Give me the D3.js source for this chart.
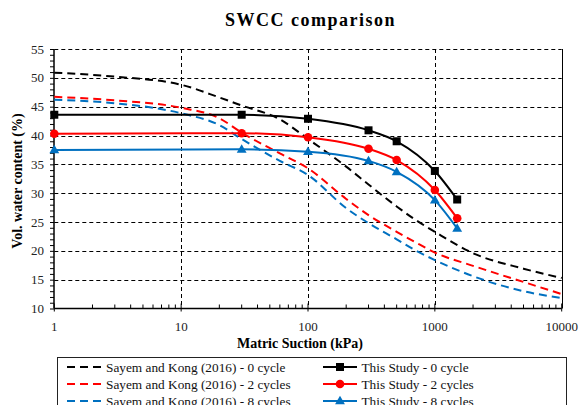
<!DOCTYPE html>
<html>
<head>
<meta charset="utf-8">
<script src="https://cdn.jsdelivr.net/npm/d3@7/dist/d3.min.js"></script>
<style>
  html, body { margin: 0; padding: 0; background: #fff; }
</style>
</head>
<body>
<svg id="chart" width="585" height="405"></svg>
<script>
// Suction values (kPa) shared by the published fitted curves
const refSuction = [1, 3, 10, 20, 30, 60, 100, 200, 300, 500, 700, 1000, 2000, 5000, 10000];
const sayem0 = [50.9, 50.2, 48.8, 46.6, 45.2, 42.8, 39.4, 34.6, 31.5, 27.7, 25.4, 23.3, 19.6, 16.9, 15.3];
const sayem2 = [46.7, 46.1, 44.8, 43.0, 40.5, 36.9, 34.3, 29.0, 26.2, 23.3, 21.5, 19.7, 17.4, 14.6, 12.5];
const sayem8 = [46.2, 45.6, 43.85, 41.8, 39.4, 35.6, 33.15, 27.4, 24.8, 22.0, 20.1, 18.4, 15.6, 13.0, 11.8];

// Measured points of this study
const studySuction = [1, 30, 100, 300, 500, 1000, 1500];
const study0 = [43.6, 43.6, 42.9, 40.9, 39.0, 33.85, 28.9];
const study2 = [40.3, 40.4, 39.7, 37.7, 35.75, 30.55, 25.65];
const study8 = [37.5, 37.6, 37.2, 35.6, 33.7, 28.8, 23.9];

const xTicks = [1, 10, 100, 1000, 10000];
const yTicks = [10, 15, 20, 25, 30, 35, 40, 45, 50, 55];

const seriesNames = [
  "Sayem and Kong (2016) - 0 cycle",
  "Sayem and Kong (2016) - 2 cycles",
  "Sayem and Kong (2016) - 8 cycles",
  "This Study - 0 cycle",
  "This Study - 2 cycles",
  "This Study - 8 cycles"
];
const colors = ["#000000", "#ff0000", "#0070c0"];
const FONT = "'Liberation Serif', 'Times New Roman', Times, serif";

const svg = d3.select("#chart");
const x = d3.scaleLog().domain([1, 10000]).range([54.3, 561.7]);
const y = d3.scaleLinear().domain([10, 55]).range([308.5, 49]);

function txt(g) {
  return g.append("text").attr("font-family", FONT).style("font-family", FONT);
}

// Title
txt(svg)
  .attr("x", 310.5).attr("y", 26)
  .attr("text-anchor", "middle")
  .attr("font-size", 18).attr("font-weight", "bold")
  .attr("letter-spacing", 1.5)
  .text("SWCC comparison");

// Grid
const grid = svg.append("g");
grid.selectAll("line.h").data(yTicks.filter(d => d > 10)).join("line")
  .attr("x1", x(1)).attr("x2", x(10000))
  .attr("y1", d => Math.round(y(d)) + 0.5).attr("y2", d => Math.round(y(d)) + 0.5)
  .attr("stroke", "#000").attr("stroke-width", 1).attr("stroke-dasharray", "4,3");
grid.selectAll("line.v").data([10, 100, 1000]).join("line")
  .attr("y1", y(55)).attr("y2", y(10))
  .attr("x1", d => Math.round(x(d)) + 0.5).attr("x2", d => Math.round(x(d)) + 0.5)
  .attr("stroke", "#000").attr("stroke-width", 1).attr("stroke-dasharray", "4,3");
// right border
grid.append("line")
  .attr("x1", Math.round(x(10000)) + 0.5).attr("x2", Math.round(x(10000)) + 0.5)
  .attr("y1", y(55)).attr("y2", y(10))
  .attr("stroke", "#000").attr("stroke-width", 1);

// Y axis: minor ticks every unit, outward
const minorY = d3.range(10, 56, 1);
const yAxis = svg.append("g").attr("transform", `translate(${Math.round(x(1))},0)`);
yAxis.call(d3.axisLeft(y).tickValues(minorY).tickSize(4).tickFormat(""));
yAxis.call(g => g.select(".domain").remove());
yAxis.append("line").attr("x1", 0).attr("x2", 0).attr("y1", y(55)).attr("y2", y(10))
  .attr("stroke", "#000").attr("stroke-width", 1.5);
const yLab = svg.append("g");
yTicks.forEach(d => {
  txt(yLab).attr("x", 44).attr("y", y(d) + 4.5)
    .attr("text-anchor", "end").attr("font-size", 13).attr("fill", "#222")
    .text(d);
});

// X axis: log decades with inward minor ticks
const minorX = [];
for (let e = 0; e < 4; e++) for (let m = 2; m <= 9; m++) minorX.push(m * Math.pow(10, e));
const xAxisG = svg.append("g").attr("transform", `translate(0,${y(10)})`);
xAxisG.append("line").attr("x1", x(1)).attr("x2", x(10000)).attr("y1", 0).attr("y2", 0)
  .attr("stroke", "#000").attr("stroke-width", 1.5);
xAxisG.selectAll("line.minor").data(minorX).join("line")
  .attr("x1", d => x(d)).attr("x2", d => x(d)).attr("y1", 0).attr("y2", -4)
  .attr("stroke", "#000").attr("stroke-width", 1);
xAxisG.selectAll("line.major").data(xTicks).join("line")
  .attr("x1", d => x(d)).attr("x2", d => x(d)).attr("y1", -5).attr("y2", 3)
  .attr("stroke", "#000").attr("stroke-width", 1);
xTicks.forEach(d => {
  txt(xAxisG).attr("x", x(d)).attr("y", 22)
    .attr("text-anchor", "middle").attr("font-size", 13).attr("fill", "#222")
    .text(d);
});

// Axis titles
txt(svg)
  .attr("x", 300).attr("y", 348)
  .attr("text-anchor", "middle").attr("font-size", 14).attr("font-weight", "bold")
  .text("Matric Suction (kPa)");
txt(svg)
  .attr("transform", "translate(22,181) rotate(-90)")
  .attr("text-anchor", "middle").attr("font-size", 14).attr("font-weight", "bold")
  .text("Vol. water content (%)");

// Curves
const line = d3.line()
  .x(d => x(d[0])).y(d => y(d[1]))
  .curve(d3.curveMonotoneX);

const refSeries = [sayem0, sayem2, sayem8];
refSeries.forEach((vals, i) => {
  svg.append("path")
    .datum(refSuction.map((s, k) => [s, vals[k]]))
    .attr("d", line)
    .attr("fill", "none").attr("stroke", colors[i])
    .attr("stroke-width", 2).attr("stroke-dasharray", "8,5");
});

const studySeries = [study0, study2, study8];
const markerKind = ["square", "circle", "triangle"];
function drawMarker(g, kind, cx, cy, color) {
  if (kind === "square") {
    g.append("rect").attr("x", cx - 4).attr("y", cy - 4).attr("width", 8).attr("height", 8)
      .attr("fill", color);
  } else if (kind === "circle") {
    g.append("circle").attr("cx", cx).attr("cy", cy).attr("r", 4.3).attr("fill", color);
  } else {
    g.append("path")
      .attr("d", d3.symbol(d3.symbolTriangle, 42)())
      .attr("transform", `translate(${cx},${cy + 0.5})`)
      .attr("fill", color);
  }
}
studySeries.forEach((vals, i) => {
  const pts = studySuction.map((s, k) => [s, vals[k]]);
  svg.append("path").datum(pts).attr("d", line)
    .attr("fill", "none").attr("stroke", colors[i]).attr("stroke-width", 2);
  const mg = svg.append("g");
  pts.forEach(p => drawMarker(mg, markerKind[i], x(p[0]), y(p[1]), colors[i]));
});

// Legend
const legend = svg.append("g");
legend.append("rect")
  .attr("x", 57.5).attr("y", 357.5).attr("width", 509).attr("height", 60)
  .attr("fill", "#fff").attr("stroke", "#222").attr("stroke-width", 1);
const rowY = [367, 384, 401];
seriesNames.forEach((name, i) => {
  const col = i < 3 ? 0 : 1;
  const row = i % 3;
  const lx0 = col === 0 ? 67 : 323;
  const lx1 = col === 0 ? 102 : 357;
  const tx = col === 0 ? 106 : 361.5;
  const cy = rowY[row];
  const l = legend.append("line")
    .attr("x1", lx0).attr("x2", lx1).attr("y1", cy).attr("y2", cy)
    .attr("stroke", colors[row]).attr("stroke-width", 2);
  if (col === 0) l.attr("stroke-dasharray", "8,5");
  else drawMarker(legend, markerKind[row], (lx0 + lx1) / 2, cy, colors[row]);
  txt(legend)
    .attr("x", tx).attr("y", cy + 4.5)
    .attr("font-size", 13.3).attr("fill", "#111")
    .text(name);
});
</script>
</body>
</html>
